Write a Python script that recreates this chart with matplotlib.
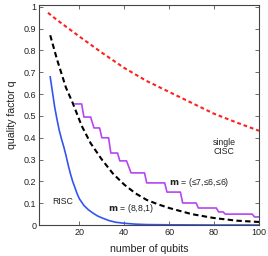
import matplotlib
matplotlib.use('Agg')
from matplotlib import pyplot as plt

plt.rcParams['font.family'] = ['Liberation Sans', 'DejaVu Sans']

# single CISC (red dashed)
nCisc = [6, 10, 20, 30, 40, 50, 60, 70, 80, 90, 100]
qCisc = [0.973, 0.94, 0.864, 0.79, 0.72, 0.66, 0.61, 0.56, 0.51, 0.47, 0.432]

# m = (8,8,1) (black dashed)
n881 = [7, 10, 14, 17, 21, 25, 30, 35, 40, 45, 50, 55, 60, 70, 80, 90, 100]
q881 = [0.87, 0.76, 0.63, 0.56, 0.455, 0.375, 0.30, 0.235, 0.185, 0.145, 0.115,
        0.095, 0.078, 0.05, 0.032, 0.02, 0.014]

# RISC (blue)
nRisc = [7, 9, 10, 11, 12, 13, 14, 15, 16, 17, 18, 19, 20, 22, 24, 26, 28, 30,
         33, 36, 40, 45, 50, 60, 80, 100]
qRisc = [0.679, 0.54, 0.485, 0.435, 0.395, 0.36, 0.32, 0.275, 0.235, 0.20,
         0.172, 0.143, 0.12, 0.09, 0.07, 0.055, 0.042, 0.033, 0.021, 0.013,
         0.008, 0.004, 0.002, 0.001, 0.0, 0.0]

# m = (<=7,<=6,<=6) (purple staircase)
nMix = [18, 21, 22, 25, 26.5, 29, 30, 33, 34, 37, 38, 41, 43, 49, 50, 58, 59,
        65, 66, 72, 73, 81, 82, 84, 85, 97, 98, 100]
qMix = [0.555, 0.555, 0.495, 0.495, 0.445, 0.445, 0.40, 0.40, 0.33, 0.33,
        0.294, 0.294, 0.239, 0.239, 0.193, 0.193, 0.151, 0.151, 0.101, 0.101,
        0.078, 0.078, 0.06, 0.06, 0.05, 0.05, 0.037, 0.037]

xTicks = [20, 40, 60, 80, 100]
yTicks = [0, 0.1, 0.2, 0.3, 0.4, 0.5, 0.6, 0.7, 0.8, 0.9, 1]
yTickLabels = ['0', '0.1', '0.2', '0.3', '0.4', '0.5', '0.6', '0.7', '0.8', '0.9', '1']

fig = plt.figure(figsize=(2.68, 2.56), dpi=100)
ax = fig.add_axes([0.1455, 0.121, 0.8209, 0.859])

ax.plot(nCisc, qCisc, color='#ff2020', linewidth=1.5, dashes=(1.8, 1.4))
ax.plot(n881, q881, color='black', linewidth=1.5, dashes=(2.6, 1.6))
ax.plot(nRisc, qRisc, color='#3355ee', linewidth=1.2)
ax.plot(nMix, qMix, color='#b545f5', linewidth=1.2)

fs = 6.3
ax.text(8, 0.11, 'RISC', fontsize=fs, color='#222222', va='center')
ax.text(32.6, 0.075, r'$\mathbf{m}$ = (8,8,1)', fontsize=fs, color='#222222', va='center')
ax.text(59.9, 0.196, r'$\mathbf{m}$ = (≤7,≤6,≤6)', fontsize=fs, color='#222222', va='center')
ax.text(84.5, 0.358, 'single\nCISC', fontsize=fs, color='#222222', ha='center', va='center',
        linespacing=1.0)

ax.set_xlim(2, 100)
ax.set_ylim(0, 1.008)
ax.set_xticks(xTicks)
ax.set_yticks(yTicks)
ax.set_yticklabels(yTickLabels)
ax.tick_params(direction='in', top=True, right=True, length=3, width=0.6,
               labelsize=6.5, colors='#555555', labelcolor='#222222', pad=2)
for s in ax.spines.values():
    s.set_linewidth(0.8)
    s.set_color('#444444')

ax.set_xlabel('number of qubits', fontsize=7.6, color='#222222', labelpad=5)
ax.set_ylabel('quality factor q', fontsize=7.6, color='#222222', labelpad=5)

fig.savefig('out.png', dpi=100)
